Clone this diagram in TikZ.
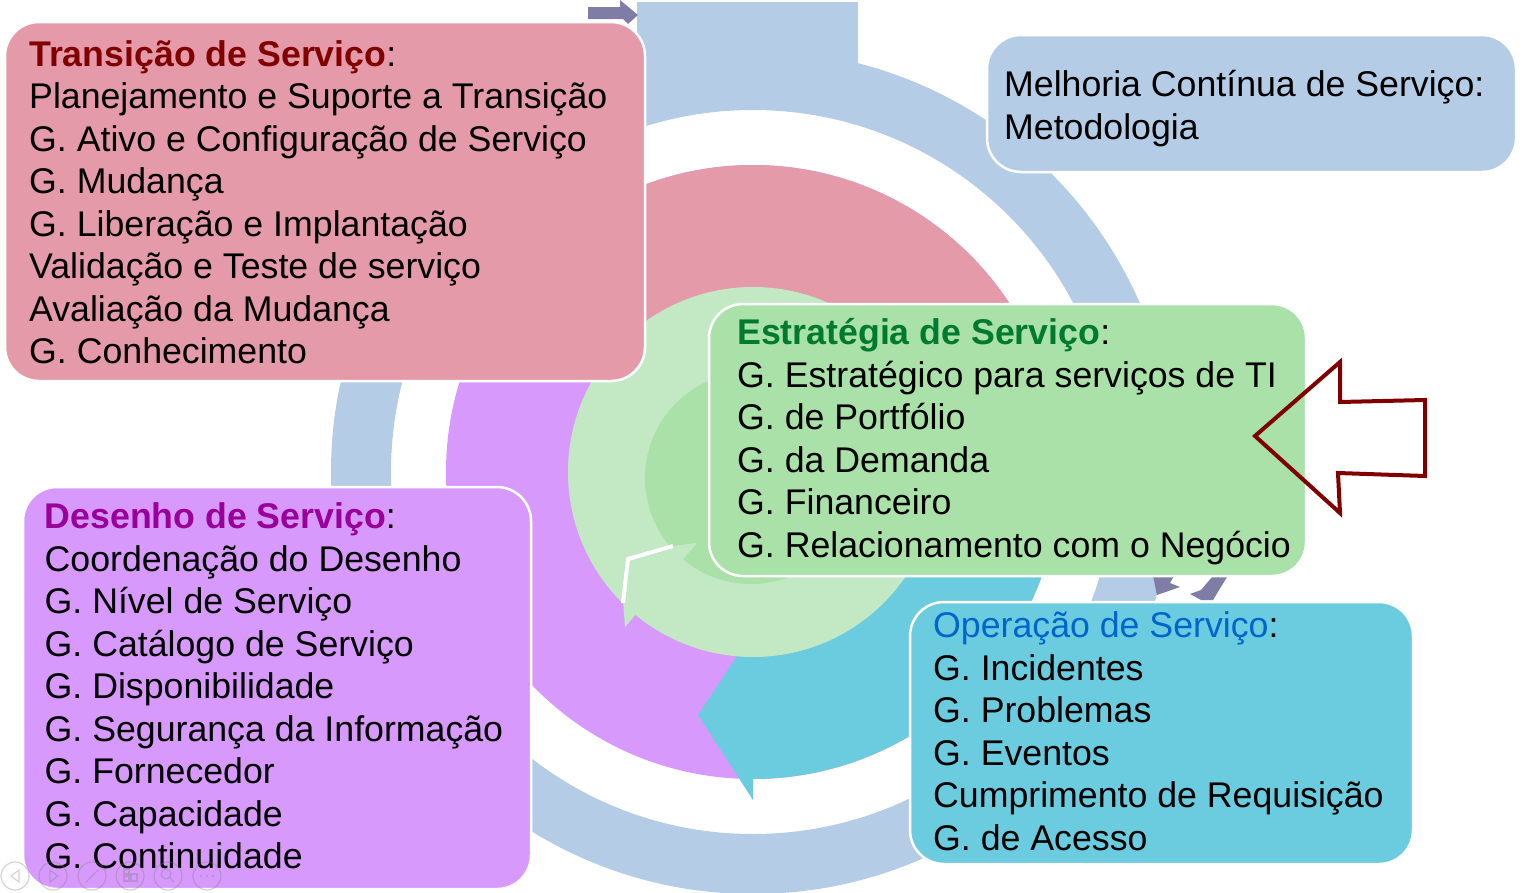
\documentclass[tikz,border=0pt]{standalone}
\usepackage{fontspec}
\setmainfont{Liberation Sans}
\definecolor{ringblue}{RGB}{180,204,229}
\definecolor{pinkc}{RGB}{229,154,170}
\definecolor{purplec}{RGB}{215,153,252}
\definecolor{cyanc}{RGB}{107,203,223}
\definecolor{lgreen}{RGB}{194,233,196}
\definecolor{dgreen}{RGB}{169,225,169}
\definecolor{greenbox}{RGB}{169,225,169}
\definecolor{arrowgray}{RGB}{127,125,166}
\definecolor{redline}{RGB}{128,0,0}
\definecolor{ttred}{RGB}{128,0,0}
\definecolor{ttgreen}{RGB}{0,122,46}
\definecolor{ttpurple}{RGB}{153,0,153}
\definecolor{ttblue}{RGB}{0,102,204}
\tikzset{
  boxshape/.style={draw=white, line width=2.5pt, rounded corners=34pt},
  boxtext/.style={anchor=north west, inner sep=0pt, align=left,
    font=\fontsize{35.7}{42.5}\selectfont},
  icon/.style={draw=gray, opacity=0.35, line width=1.2pt}
}
\begin{document}
\begin{tikzpicture}[x=1pt,y=-1pt]
\useasboundingbox (0,0) rectangle (1524,892);
% outer blue ring with top block
\fill[ringblue, even odd rule] (753,472) circle[radius=422pt] (753,472) circle[radius=362pt];
\fill[ringblue] (637,2) rectangle (858,100);
\fill[arrowgray] (588,7) -- (620,7) -- (620,0) -- (638,15) -- (628,24) -- (623,19) -- (588,19) -- cycle;
% small gray chevrons lower right
\fill[arrowgray] (1153,576) -- (1174,576) -- (1170,583) -- (1180,587) -- (1157,595) -- cycle;
\fill[arrowgray] (1212,577) -- (1227,577) -- (1213,600) -- (1201,600) -- (1190,594) -- (1201,590) -- cycle;
% middle ring segments
\fill[purplec] (753,472) circle[radius=307pt];
\fill[pinkc] (753,472) -- plot[domain=-15:149,samples=90] ({753+307*cos(\x)},{472-307*sin(\x)}) -- cycle;
\fill[cyanc] (753,472) -- plot[domain=-90:-15,samples=50] ({753+307*cos(\x)},{472-307*sin(\x)}) -- cycle;
\fill[cyanc] (753,632) -- (698,715) -- (753,800) -- cycle;
% inner green disks
\fill[lgreen] (753,472) circle[radius=185pt];
\fill[dgreen] (751,478) circle[radius=106pt];
\fill[lgreen] (697,543) -- (625,627) -- (623,600) -- (627,560) -- (673,546) -- cycle;
\draw[white, line width=4pt] (673,546) -- (628,559) -- (623,603);
% boxes
\draw[boxshape, fill=pinkc] (5,22) rectangle (645,381);
\draw[boxshape, fill=ringblue] (987,35) rectangle (1516,172);
\draw[boxshape, fill=greenbox] (709,304) rectangle (1306,576);
\draw[boxshape, fill=purplec] (23,487) rectangle (531,889);
\draw[boxshape, fill=cyanc] (910,602) rectangle (1413,864);
% texts
\node[boxtext] (transicao) at (29,36.2) {\strut\textcolor{ttred}{\bfseries Transição de Serviço}:\\
\strut Planejamento e Suporte a Transição\\
\strut G. Ativo e Configuração de Serviço\\
\strut G. Mudança\\
\strut G. Liberação e Implantação\\
\strut Validação e Teste de serviço\\
\strut Avaliação da Mudança\\
\strut G. Conhecimento};
\node[boxtext] (melhoria) at (1004,66.8) {\strut Melhoria Contínua de Serviço:\\
\strut Metodologia};
\node[boxtext] (estrategia) at (737,314.7) {\strut\textcolor{ttgreen}{\bfseries Estratégia de Serviço}:\\
\strut G. Estratégico para serviços de TI\\
\strut G. de Portfólio\\
\strut G. da Demanda\\
\strut G. Financeiro\\
\strut G. Relacionamento com o Negócio};
\node[boxtext] (desenho) at (44.5,498.7) {\strut\textcolor{ttpurple}{\bfseries Desenho de Serviço}:\\
\strut Coordenação do Desenho\\
\strut G. Nível de Serviço\\
\strut G. Catálogo de Serviço\\
\strut G. Disponibilidade\\
\strut G. Segurança da Informação\\
\strut G. Fornecedor\\
\strut G. Capacidade\\
\strut G. Continuidade};
\node[boxtext] (operacao) at (933,607.7) {\strut\textcolor{ttblue}{Operação de Serviço}:\\
\strut G. Incidentes\\
\strut G. Problemas\\
\strut G. Eventos\\
\strut Cumprimento de Requisição\\
\strut G. de Acesso};
% red outlined arrow
\draw[redline, line width=4pt, line join=miter] (1255,436) -- (1340,362) -- (1340,402) -- (1425,400) -- (1425,476) -- (1338,473) -- (1340,513) -- cycle;
% faint toolbar icons
\foreach \cx in {15,53,92,130,168,207} { \draw[icon] (\cx,876) circle[radius=14pt]; }
\draw[icon] (19,870) -- (11,876) -- (19,882) -- cycle;
\draw[icon] (50,870) -- (58,876) -- (50,882) -- cycle;
\draw[icon] (86,882) -- (98,870);
\draw[icon] (124,869) rectangle (129,874) (124,876) rectangle (129,881) (131,874) rectangle (137,881);
\draw[icon] (166,874) circle[radius=5pt] (170,878) -- (174,882);
\foreach \dx in {201,207,213} { \fill[gray, opacity=0.35] (\dx,876) circle[radius=1.3pt]; }
\end{tikzpicture}
\end{document}
